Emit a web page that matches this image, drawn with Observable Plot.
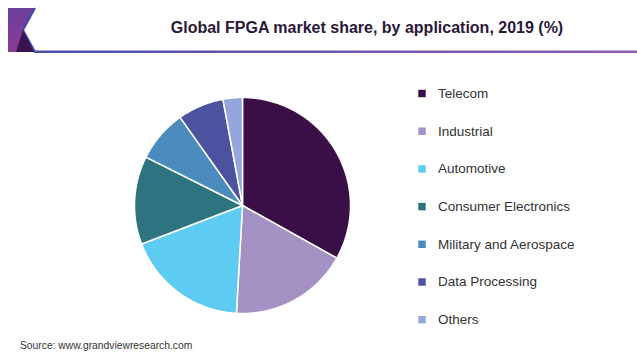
<!DOCTYPE html>
<html>
<head>
<meta charset="utf-8">
<script src="https://cdn.jsdelivr.net/npm/d3@7"></script>
<script src="https://cdn.jsdelivr.net/npm/@observablehq/plot@0.6"></script>
<style>
  html, body { margin: 0; padding: 0; background: #fff; }
  #wrap { position: relative; width: 637px; height: 358px; overflow: hidden; font-family: "Liberation Sans", Arial, sans-serif; }
  #title { position: absolute; left: 0; width: 734px; top: 19px; text-align: center; font-size: 16px; font-weight: bold; color: #2b1838; white-space: nowrap; }
  #source { position: absolute; left: 20px; top: 340px; font-size: 10.3px; color: #333; }
  #chart { position: absolute; left: 0; top: 0; }
  #logo { position: absolute; left: 0; top: 0; }
</style>
</head>
<body>
<div id="wrap">
  <svg id="logo" width="637" height="60">
    <defs>
      <linearGradient id="lg" x1="0" y1="0" x2="0" y2="1">
        <stop offset="0" stop-color="#6a3f9c"/>
        <stop offset="1" stop-color="#8a3a94"/>
      </linearGradient>
      <linearGradient id="ln" x1="0" y1="0" x2="1" y2="0">
        <stop offset="0" stop-color="#4a4fa6"/>
        <stop offset="1" stop-color="#8e5db4"/>
      </linearGradient>
    </defs>
    <polygon points="8,8 35,8 23,30 35,52 8,52" fill="url(#lg)"/>
    <polyline points="35,8 23,30 35,52" fill="none" stroke="#3d4aa8" stroke-width="2"/>
    <polygon points="23,30 16,52 34,52" fill="#3a1450"/>
    <rect x="34" y="50.5" width="603" height="2.5" fill="url(#ln)"/>
  </svg>
  <div id="title">Global FPGA market share, by application, 2019 (%)</div>
  <div id="chart"></div>
  <div id="source">Source: www.grandviewresearch.com</div>
</div>
<script>
const categories = ["Telecom", "Industrial", "Automotive", "Consumer Electronics", "Military and Aerospace", "Data Processing", "Others"];
const shares = [33.1, 17.8, 18.3, 13.2, 7.8, 6.9, 2.9];
const colors = ["#3a0f47", "#a592c4", "#5ecbf3", "#2e7480", "#4b8bbe", "#4b52a0", "#94a6dd"];

const cx = 242, cy = 205, R = 108;
const arcs = d3.pie().sort(null).value(d => d)(shares);
const slices = arcs.map((a, i) => {
  const pts = [[cx, cy]];
  const n = Math.max(2, Math.ceil((a.endAngle - a.startAngle) / (Math.PI / 360)));
  for (let k = 0; k <= n; k++) {
    const t = a.startAngle + (a.endAngle - a.startAngle) * k / n;
    pts.push([cx + R * Math.sin(t), cy - R * Math.cos(t)]);
  }
  pts.push([cx, cy]);
  return {type: "Feature", properties: {category: categories[i], value: shares[i]}, geometry: {type: "Polygon", coordinates: [pts]}};
});

const legendX = 421.5, legendTop = 93, legendStep = 37.7;

const chart = Plot.plot({
  width: 637,
  height: 358,
  margin: 0,
  projection: {type: "identity"},
  color: {domain: categories, range: colors},
  style: {background: "transparent", fontFamily: "'Liberation Sans', Arial, sans-serif"},
  marks: [
    Plot.geo(slices, {fill: d => d.properties.category, stroke: "white", strokeWidth: 1.5}),
    Plot.dot(categories, {x: () => legendX, y: (d, i) => legendTop + i * legendStep, symbol: "square", r: 4.2, fill: d => d}),
    Plot.text(categories, {x: () => legendX + 16, y: (d, i) => legendTop + i * legendStep, text: d => d, textAnchor: "start", fontSize: 13.5, fill: "#333"})
  ]
});
document.getElementById("chart").appendChild(chart);
</script>
</body>
</html>
